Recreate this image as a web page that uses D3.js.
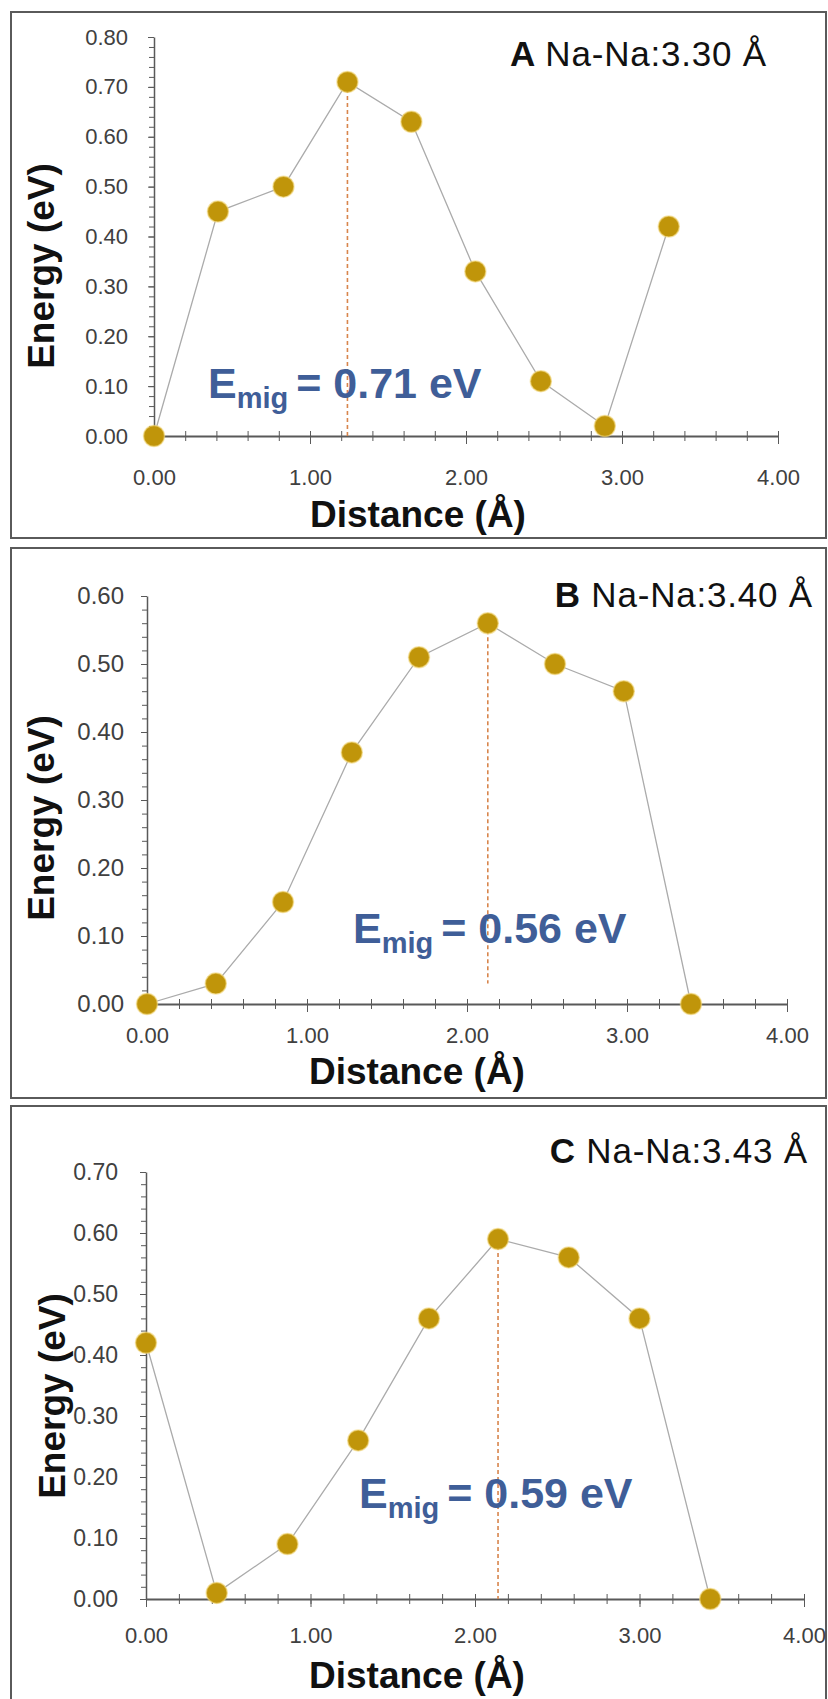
<!DOCTYPE html>
<html>
<head>
<meta charset="utf-8">
<script src="https://cdn.jsdelivr.net/npm/d3@7"></script>
<style>
  body { margin: 0; background: #fff; }
  svg { display: block; }
</style>
</head>
<body>
<div id="main"></div>
<script>
const ctx = {
    w: 828,
    h: 1699,
};

// tick labels
const xTickValues = [0, 1, 2, 3, 4];
const yTicksA = [0, 0.1, 0.2, 0.3, 0.4, 0.5, 0.6, 0.7, 0.8];
const yTicksB = [0, 0.1, 0.2, 0.3, 0.4, 0.5, 0.6];
const yTicksC = [0, 0.1, 0.2, 0.3, 0.4, 0.5, 0.6, 0.7];

// panel A : Na-Na 3.30 Å
const distA = [0, 0.41, 0.83, 1.24, 1.65, 2.06, 2.48, 2.89, 3.30];
const energyA = [0.00, 0.45, 0.50, 0.71, 0.63, 0.33, 0.11, 0.02, 0.42];
// panel B : Na-Na 3.40 Å
const distB = [0, 0.43, 0.85, 1.28, 1.70, 2.13, 2.55, 2.98, 3.40];
const energyB = [0.00, 0.03, 0.15, 0.37, 0.51, 0.56, 0.50, 0.46, 0.00];
// panel C : Na-Na 3.43 Å
const distC = [0, 0.43, 0.86, 1.29, 1.72, 2.14, 2.57, 3.00, 3.43];
const energyC = [0.42, 0.01, 0.09, 0.26, 0.46, 0.59, 0.56, 0.46, 0.00];

const labels = ["A", "B", "C"];
const bondLabels = ["Na-Na:3.30 Å", "Na-Na:3.40 Å", "Na-Na:3.43 Å"];
const emigLabels = ["= 0.71 eV", "= 0.56 eV", "= 0.59 eV"];
// dashed guide: [x, energy top, energy bottom]
const guides = [[1.24, 0.71, 0.00], [2.13, 0.56, 0.03], [2.14, 0.59, 0.00]];

const markerColor = "#c0950a";
const lineColor = "#ababab";
const guideColor = "#d8854c";
const emigColor = "#3f5e98";
const axisColor = "#595959";

const layouts = [
    {frame: [11, 12, 815, 526], x0: 154, x1: 778, y0: 436, y1: 37, yMax: 0.8,
     yTicks: yTicksA, yPad: 20, xPad: 25, tickFont: 22, title: [767, 66], yLab: [41, 266],
     xLab: [418, 527], emig: [208, 398]},
    {frame: [11, 548, 815, 550], x0: 147, x1: 787, y0: 1004, y1: 596, yMax: 0.6,
     yTicks: yTicksB, yPad: 17, xPad: 15, tickFont: 24, title: [813, 607], yLab: [41, 818],
     xLab: [417, 1084], emig: [353, 943]},
    {frame: [11, 1106, 815, 620], x0: 146, x1: 804, y0: 1599, y1: 1172, yMax: 0.7,
     yTicks: yTicksC, yPad: 22, xPad: 20, tickFont: 23, title: [808, 1163], yLab: [52, 1396],
     xLab: [417, 1688], emig: [359, 1508]},
];

function drawPanel(svgEl, p, dist, energy, i) {
    const xScale = d3.scaleLinear().domain([0, 4]).range([p.x0, p.x1]);
    const yScale = d3.scaleLinear().domain([0, p.yMax]).range([p.y0, p.y1]);

    svgEl.append("rect")
        .attr("x", p.frame[0]).attr("y", p.frame[1])
        .attr("width", p.frame[2]).attr("height", p.frame[3])
        .attr("fill", "#fff")
        .attr("stroke", "#5a5a5a")
        .attr("stroke-width", 2);

    // y minor ticks
    svgEl.append("g")
        .attr("transform", `translate(${p.x0},0)`)
        .call(d3.axisLeft(yScale).tickValues(d3.range(0, p.yMax + 1e-9, 0.02)).tickSize(5).tickFormat(""))
        .call(g => g.select(".domain").remove())
        .selectAll("line").attr("stroke", axisColor);

    // y major axis
    svgEl.append("g")
        .attr("transform", `translate(${p.x0},0)`)
        .call(d3.axisLeft(yScale).tickValues(p.yTicks).tickSize(6).tickSizeOuter(0)
              .tickPadding(p.yPad).tickFormat(d3.format(".2f")))
        .call(g => g.select(".domain").attr("stroke", axisColor).attr("stroke-width", 1.5))
        .call(g => g.selectAll("line").attr("stroke", axisColor))
        .selectAll("text")
        .style("font-family", "'Liberation Sans', Arial, sans-serif")
        .style("font-size", p.tickFont + "px")
        .attr("fill", "#404040");

    // x minor ticks (cross)
    svgEl.append("g")
        .attr("transform", `translate(0,${p.y0 - 5})`)
        .call(d3.axisBottom(xScale).tickValues(d3.range(0, 4.0001, 0.2)).tickSize(10).tickFormat(""))
        .call(g => g.select(".domain").remove())
        .selectAll("line").attr("stroke", axisColor);

    // x major axis
    svgEl.append("g")
        .attr("transform", `translate(0,${p.y0})`)
        .call(d3.axisBottom(xScale).tickValues(xTickValues).tickSize(8).tickSizeOuter(0)
              .tickPadding(p.xPad).tickFormat(d3.format(".2f")))
        .call(g => g.select(".domain").attr("stroke", axisColor).attr("stroke-width", 2))
        .call(g => g.selectAll("line").attr("stroke", axisColor))
        .selectAll("text")
        .style("font-family", "'Liberation Sans', Arial, sans-serif")
        .style("font-size", "22px")
        .attr("fill", "#404040");

    // dashed guide at the barrier top
    const gd = guides[i];
    svgEl.append("line")
        .attr("x1", xScale(gd[0])).attr("x2", xScale(gd[0]))
        .attr("y1", yScale(gd[1])).attr("y2", yScale(gd[2]))
        .attr("stroke", guideColor)
        .attr("stroke-width", 1.6)
        .attr("stroke-dasharray", "4,3");

    const pts = dist.map((d, k) => [d, energy[k]]);

    svgEl.append("path")
        .datum(pts)
        .attr("fill", "none")
        .attr("stroke", lineColor)
        .attr("stroke-width", 1.3)
        .attr("d", d3.line().x(d => xScale(d[0])).y(d => yScale(d[1])));

    svgEl.selectAll(null)
        .data(pts)
        .enter().append("circle")
        .attr("cx", d => xScale(d[0]))
        .attr("cy", d => yScale(d[1]))
        .attr("r", 10.5)
        .attr("fill", markerColor)
        .attr("stroke", "#f2d77c")
        .attr("stroke-opacity", 0.6)
        .attr("stroke-width", 1.5);

    // panel title
    const t = svgEl.append("text")
        .attr("x", p.title[0]).attr("y", p.title[1])
        .attr("text-anchor", "end")
        .style("font-family", "'Liberation Sans', Arial, sans-serif")
        .style("font-size", "35px")
        .style("letter-spacing", "0.8px")
        .attr("fill", "#111");
    t.append("tspan").style("font-weight", "bold").text(labels[i] + " ");
    t.append("tspan").text(bondLabels[i]);

    // E_mig annotation
    const e = svgEl.append("text")
        .attr("x", p.emig[0]).attr("y", p.emig[1])
        .style("font-family", "'Liberation Sans', Arial, sans-serif")
        .style("font-weight", "bold")
        .style("font-size", "43px")
        .attr("fill", emigColor);
    e.append("tspan").text("E");
    e.append("tspan").attr("dy", 10).style("font-size", "29px").text("mig");
    e.append("tspan").attr("dy", -10).attr("dx", 8).text(emigLabels[i]);

    // axis titles
    svgEl.append("text")
        .attr("x", p.xLab[0]).attr("y", p.xLab[1])
        .attr("text-anchor", "middle")
        .style("font-family", "'Liberation Sans', Arial, sans-serif")
        .style("font-weight", "bold")
        .style("font-size", "37px")
        .attr("fill", "#111")
        .text("Distance (Å)");

    svgEl.append("text")
        .attr("transform", `translate(${p.yLab[0] + 13},${p.yLab[1]}) rotate(-90)`)
        .attr("text-anchor", "middle")
        .style("font-family", "'Liberation Sans', Arial, sans-serif")
        .style("font-weight", "bold")
        .style("font-size", "37px")
        .attr("fill", "#111")
        .text("Energy (eV)");
}

function createViz() {
    const svgEl = d3.select("#main").append("svg")
        .attr("width", ctx.w)
        .attr("height", ctx.h);
    const series = [[distA, energyA], [distB, energyB], [distC, energyC]];
    layouts.forEach((p, i) => drawPanel(svgEl, p, series[i][0], series[i][1], i));
}

createViz();
</script>
</body>
</html>
